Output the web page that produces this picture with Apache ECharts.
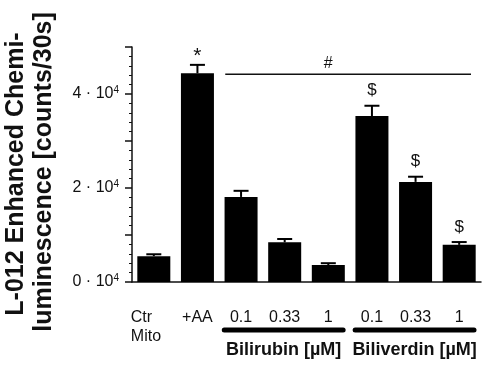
<!DOCTYPE html>
<html>
<head>
<meta charset="utf-8">
<script src="https://cdn.jsdelivr.net/npm/echarts@6/dist/echarts.min.js"></script>
<style>
html, body { margin: 0; padding: 0; background: #fff; }
#main { width: 490px; height: 370px; }
</style>
</head>
<body>
<div id="main"></div>
<script>
var categories = ['Ctr\nMito', '+AA', '0.1', '0.33', '1', '0.1', '0.33', '1'];
var means = [5500, 44400, 18100, 8450, 3600, 35300, 21300, 7900];
var errors = [400, 1800, 1300, 700, 400, 2200, 1100, 600];
var marks = ['', '*', '', '', '', '$', '$', '$'];
var yLabels = [0, 20000, 40000];
var groups = [
    { name: 'Bilirubin [µM]', from: 2, to: 4 },
    { name: 'Biliverdin [µM]', from: 5, to: 7 }
];
var hashFrom = 2, hashTo = 7, hashAt = 4;

var font = "'Liberation Sans', Arial, sans-serif";
var chart = echarts.init(document.getElementById('main'));

var option = {
    animation: false,
    grid: { left: 132, right: 9, top: 47, bottom: 88, outerBoundsMode: 'none' },
    xAxis: {
        type: 'category',
        data: categories,
        offset: 5,
        axisLine: { lineStyle: { color: '#111', width: 1.5 } },
        axisTick: { length: 5, lineStyle: { color: '#111', width: 1.5 } },
        axisLabel: {
            interval: 0, margin: 21, fontSize: 16, lineHeight: 19,
            color: '#111', fontFamily: font,
            formatter: function (v, i) {
                if (v.indexOf('\n') < 0) return v;
                // first label is left aligned in a wider box
                return v.split('\n').map(function (s) { return '{l|' + s + '}'; }).join('\n');
            },
            rich: {
                l: { width: 46, align: 'left', fontSize: 16, lineHeight: 19, fontFamily: font, color: '#111' }
            }
        }
    },
    yAxis: {
        type: 'value',
        min: 0, max: 50000, interval: 10000,
        splitLine: { show: false },
        axisLine: { show: true, lineStyle: { color: '#111', width: 1.5 } },
        axisTick: { show: true, length: 7, lineStyle: { color: '#111', width: 1.5 } },
        minorTick: { show: true, splitNumber: 5, length: 3, lineStyle: { color: '#111', width: 1 } },
        axisLabel: {
            margin: 13, color: '#111', fontFamily: font,
            formatter: function (v) {
                if (yLabels.indexOf(v) < 0) return '';
                return '{b|' + (v / 10000) + ' · 10}{s|4}';
            },
            rich: {
                b: { fontSize: 16, fontFamily: font, color: '#111' },
                s: { fontSize: 10, fontFamily: font, color: '#111', padding: [0, 0, 8, 0] }
            }
        }
    },
    series: [
        {
            type: 'bar',
            data: means,
            barWidth: 33,
            itemStyle: { color: '#000' }
        },
        {
            type: 'custom',
            data: means.map(function (m, i) { return [i, m, errors[i], marks[i]]; }),
            renderItem: function (params, api) {
                var i = api.value(0);
                var m = api.value(1);
                var e = api.value(2);
                var p0 = api.coord([i, m]);
                var p1 = api.coord([i, m + e]);
                var hw = 7.5;
                var children = [
                    { type: 'line', shape: { x1: p0[0], y1: p0[1], x2: p1[0], y2: p1[1] },
                      style: { stroke: '#000', lineWidth: 2 } },
                    { type: 'line', shape: { x1: p1[0] - hw, y1: p1[1], x2: p1[0] + hw, y2: p1[1] },
                      style: { stroke: '#000', lineWidth: 2 } }
                ];
                var mk = marks[params.dataIndex];
                if (mk) {
                    var star = mk === '*';
                    children.push({
                        type: 'text',
                        x: p1[0], y: p1[1] - (star ? 9 : 15),
                        style: {
                            text: mk, align: 'center', verticalAlign: 'middle',
                            fontSize: star ? 21 : 17, fontFamily: font, fill: '#111'
                        }
                    });
                }
                return { type: 'group', children: children };
            },
            z: 3
        }
    ]
};
chart.setOption(option);

// annotations placed from the category axis
function cx(i) { return chart.convertToPixel({ xAxisIndex: 0 }, i); }
var band = cx(1) - cx(0);
var graphics = [];

groups.forEach(function (g) {
    var x1 = cx(g.from) - band / 2 + 5;
    var x2 = cx(g.to) + band / 2 - 7;
    graphics.push({
        type: 'line', shape: { x1: x1, y1: 330, x2: x2, y2: 330 },
        style: { stroke: '#000', lineWidth: 5, lineCap: 'round' }
    });
    graphics.push({
        type: 'text', x: (x1 + x2) / 2, y: 350,
        style: {
            text: g.name, align: 'center', verticalAlign: 'middle',
            fontSize: 18, fontWeight: 'bold', fontFamily: font, fill: '#111'
        }
    });
});

var hx1 = cx(hashFrom) - band / 2 + 6;
var hx2 = cx(hashTo) + band / 2 - 10;
var hy = chart.convertToPixel({ yAxisIndex: 0 }, 44400) + 1;
graphics.push({
    type: 'line', shape: { x1: hx1, y1: hy, x2: hx2, y2: hy },
    style: { stroke: '#111', lineWidth: 1.5 }
});
graphics.push({
    type: 'text', x: cx(hashAt), y: hy - 11,
    style: {
        text: '#', align: 'center', verticalAlign: 'middle',
        fontSize: 16, fontFamily: font, fill: '#111'
    }
});

// y axis title, two rotated lines
graphics.push({
    type: 'text', x: 16, y: 174, rotation: Math.PI / 2,
    style: {
        text: 'L-012 Enhanced Chemi-', align: 'center', verticalAlign: 'middle',
        fontSize: 25, fontWeight: 'bold', fontFamily: font, fill: '#111'
    }
});
graphics.push({
    type: 'text', x: 44, y: 172, rotation: Math.PI / 2,
    style: {
        text: 'luminescence [counts/30s]', align: 'center', verticalAlign: 'middle',
        fontSize: 25, fontWeight: 'bold', fontFamily: font, fill: '#111'
    }
});

chart.setOption({ graphic: graphics });
</script>
</body>
</html>
